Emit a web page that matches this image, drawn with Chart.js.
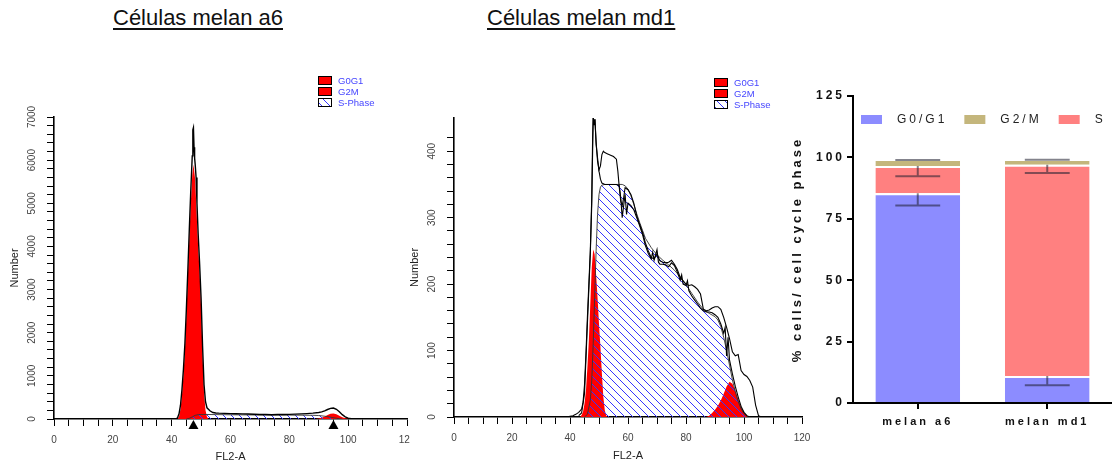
<!DOCTYPE html>
<html>
<head>
<meta charset="utf-8">
<title>Ciclo celular melan a6 / melan md1</title>
<script src="https://cdn.jsdelivr.net/npm/chart.js@4.4.1/dist/chart.umd.min.js"></script>
<style>
  html, body { margin: 0; padding: 0; background: #fff; }
  body { width: 1112px; height: 465px; position: relative; overflow: hidden;
         font-family: 'Liberation Sans', Arial, sans-serif; }
  .ttl { position: absolute; top: 7px; font-size: 22px; line-height: 22px; color: #111;
         text-decoration: underline; text-decoration-thickness: 1.5px; text-underline-offset: 3px;
         white-space: nowrap; }
  canvas { position: absolute; }
  #histA6 { left: 0; top: 40px; filter: blur(0.45px); }
  #histMd1 { left: 400px; top: 40px; filter: blur(0.45px); }
  #phaseBars { left: 780px; top: 80px; filter: blur(0.2px); }
</style>
</head>
<body>
<div class="ttl" style="left:113px">Células melan a6</div>
<div class="ttl" style="left:487px">Células melan md1</div>
<canvas id="histA6" width="410" height="425"></canvas>
<canvas id="histMd1" width="415" height="425"></canvas>
<canvas id="phaseBars" width="332" height="385"></canvas>

<script>
const FONT = "'Liberation Sans', Arial, sans-serif";

// ---- melan a6: DNA content histogram (FL2-A, counts) ----
const a6Histogram = [
  [0,0],[40,0],[41.5,5],[42,30],[42.5,120],[43,320],[43.5,680],[44,1150],[44.5,1750],[45,2550],
  [45.5,3450],[46,4400],[46.5,5300],[47,6100],[47.2,6700],[47.4,6750],[47.6,6300],[47.8,6050],
  [48,5900],[48.3,5600],[48.6,5000],[49,4300],[49.5,3600],[50,2800],[50.5,1700],[51,800],[51.5,400],
  [52,260],[53,190],[54,150],[55,140],[56,135],[58,130],[60,125],[62,120],[64,118],[66,115],[68,110],
  [70,105],[72,105],[74,100],[76,105],[78,105],[80,108],[82,112],[84,118],[86,125],[88,135],[90,150],
  [91,165],[92,190],[93,220],[94,245],[95,255],[96,225],[97,170],[98,100],[99,50],[100,20],[101,5],
  [102,0],[120,0]
];
const a6G0G1 = [
  [42,0],[42.5,60],[43,220],[43.5,550],[44,1000],[44.5,1600],[45,2400],[45.5,3300],[46,4200],
  [46.5,5000],[47,5650],[47.4,5900],[48,5550],[48.5,4750],[49,4000],[49.5,3400],[50,2600],
  [50.5,1500],[51,600],[51.5,200],[52,50],[52.5,0]
];
const a6SPhase = [
  [45,0],[46,15],[47,50],[48,85],[49,100],[50,105],[52,105],[55,102],[60,98],[65,95],[70,92],
  [75,90],[80,90],[85,88],[88,86],[90,80],[92,65],[94,42],[96,18],[97,6],[98,0]
];
const a6G2M = [
  [89,0],[90,10],[91,30],[92,60],[93,95],[94,122],[95,130],[96,112],[97,78],[98,42],[99,16],[100,4],[101,0]
];
const a6PeakMeans = [47.4, 95.0];

// ---- melan md1: DNA content histogram ----
const md1Histogram = [
  [0,0],[39,0],[40,1],[41,2],[42,4],[43,7],[44,12],[44.5,22],[45,48],[45.5,95],[46,150],[46.5,200],
  [47,250],[47.5,330],[47.8,420],[48,450],[48.3,445],[48.6,448],[49,415],[49.5,385],[50,372],
  [50.5,378],[51,395],[51.5,400],[52,398],[53,396],[54,394],[55,392],[56,388],[56.5,370],[57,345],
  [57.5,325],[58,318],[58.5,330],[59,345],[60,342],[61,335],[62,322],[63,303],[64,290],[65,278],
  [66,262],[67,250],[68,240],[69,238],[70,245],[71,235],[72,233],[73,232],[74,233],[75,236],
  [76,230],[77,222],[78,210],[79,205],[80,200],[81,198],[82,199],[83,196],[84,192],[85,185],
  [86,162],[87,160],[88,161],[89,164],[90,166],[91,166],[92,162],[93,150],[94,135],[95,118],
  [96,98],[97,92],[98,94],[99,70],[100,64],[101,61],[102,55],[103,45],[104,18],[105,2],[106,0],[120,0]
];
const md1Trace = [
  [43,2],[44,6],[45,35],[46,140],[47,245],[47.5,320],[48,452],[48.3,440],[48.6,448],[49,410],
  [49.5,390],[50,370],[50.5,358],[51,352],[52,350],[56,350],[57,348],[57.5,330],[58,300],
  [58.5,318],[59,335],[59.5,305],[60,322],[61,318],[62,312],[63,300],[64,288],[65,275],[66,258],
  [67,246],[68,238],[68.5,248],[69,236],[70,252],[70.5,233],[71,230],[72,230],[73,229],[74,226],
  [75,232],[76,228],[77,218],[78,206],[78.5,214],[79,200],[80,198],[80.5,205],[81,190],[82,182],
  [83,176],[84,170],[85,164],[86,160],[87,158],[88,158],[89,157],[90,154],[91,150],[92,140],
  [93,126],[93.5,135],[94,92],[94.5,120],[95,86],[96,65],[97,46],[98,30],[99,16],[100,7],[101,2],[102,0]
];
const md1G0G1 = [
  [43.5,0],[44,3],[44.5,8],[45,20],[45.5,40],[46,75],[46.5,115],[47,170],[47.5,225],[48,252],
  [48.5,245],[49,215],[49.5,180],[50,140],[50.5,105],[51,65],[51.5,30],[52,10],[52.5,2],[53,0]
];
const md1SPhase = [
  [45,0],[46,4],[47,25],[47.5,55],[48,110],[48.5,180],[49,250],[49.5,305],[50,335],[50.5,346],
  [51,349],[52,350],[58,350],[59,348],[60,343],[61,333],[62,320],[63,306],[64,293],[65,281],
  [66,269],[68,255],[70,244],[72,236],[74,229],[76,221],[78,211],[80,199],[82,186],[84,173],
  [86,162],[88,156],[90,151],[91,146],[92,136],[93,120],[94,100],[95,78],[96,56],[97,38],
  [98,23],[99,12],[100,5],[101,1],[102,0]
];
const md1G2M = [
  [87,0],[88,2],[89,6],[90,11],[91,17],[92,25],[93,35],[94,46],[95,53],[96,50],[97,40],[98,27],
  [99,15],[100,7],[101,2],[102,0]
];

// axis ranges of the histograms
const fl2Range = { min: 0, max: 120, step: 5, labelEvery: 20 };
const a6Counts = { max: 7000, step: 200, labelEvery: 1000 };
const md1Counts = { max: 450, step: 20, labelEvery: 100 };
const phaseLegendOrder = ['G0G1', 'G2M', 'S-Phase'];

// ---- cell cycle distribution (% of cells) ----
const groups = ['melan a6', 'melan md1'];
const pctG0G1 = [85.4, 11.0];
const pctS = [11.1, 86.0];
const pctG2M = [2.85, 2.35];
const errG0G1 = [5.0, 3.8];
const errS = [4.2, 3.4];
const errG2M = [0.4, 0.3];
const pctAxis = { max: 125, step: 25 };
const barLegendOrder = ['G0/G1', 'G2/M', 'S'];

// diagonal blue hatching used for the S-phase area
function hatchPattern(ctx, color, gap) {
  const tile = document.createElement('canvas');
  tile.width = gap; tile.height = gap;
  const g = tile.getContext('2d');
  g.strokeStyle = color; g.lineWidth = 1;
  g.beginPath();
  g.moveTo(0, 0); g.lineTo(gap, gap);
  g.moveTo(gap - 1, -1); g.lineTo(gap + 1, 1);
  g.moveTo(-1, gap - 1); g.lineTo(1, gap + 1);
  g.stroke();
  return ctx.createPattern(tile, 'repeat');
}

// rotated count labels beside the vertical axis
const rotatedYLabels = {
  id: 'rotatedYLabels',
  afterDraw(chart, args, o) {
    const s = chart.scales.y, ctx = chart.ctx;
    ctx.save();
    ctx.font = `${o.size}px ${FONT}`;
    ctx.fillStyle = o.color;
    ctx.textAlign = 'center';
    ctx.textBaseline = 'middle';
    s.ticks.forEach(t => {
      if (t.value % o.every !== 0) return;
      ctx.save();
      ctx.translate(s.right - o.offset, s.getPixelForValue(t.value));
      ctx.rotate(-Math.PI / 2);
      ctx.fillText(String(t.value), 0, 0);
      ctx.restore();
    });
    ctx.restore();
  }
};

// small key with the fitted components
const phaseKey = {
  id: 'phaseKey',
  afterDraw(chart, args, o) {
    const ctx = chart.ctx;
    ctx.save();
    ctx.font = `9.5px ${FONT}`;
    ctx.textBaseline = 'middle';
    o.order.forEach((lbl, i) => {
      const ds = chart.data.datasets.find(d => d.label === lbl);
      const y = o.y + i * 11;
      ctx.fillStyle = '#fff';
      ctx.fillRect(o.x, y, 14, 9);
      ctx.fillStyle = ds.backgroundColor;
      ctx.fillRect(o.x, y, 14, 9);
      ctx.strokeStyle = '#000'; ctx.lineWidth = 1;
      ctx.strokeRect(o.x + 0.5, y + 0.5, 13, 8);
      ctx.fillStyle = '#4646ff';
      ctx.fillText(lbl, o.x + 20, y + 5);
    });
    ctx.restore();
  }
};

// triangles marking the fitted peak means
const peakMarkers = {
  id: 'peakMarkers',
  afterDraw(chart, args, o) {
    if (!o.values) return;
    const { ctx, scales: { x, y } } = chart;
    const base = y.getPixelForValue(0);
    ctx.save();
    ctx.fillStyle = '#000';
    o.values.forEach(v => {
      const px = x.getPixelForValue(v);
      ctx.beginPath();
      ctx.moveTo(px, base + 1);
      ctx.lineTo(px + 5, base + 10);
      ctx.lineTo(px - 5, base + 10);
      ctx.closePath();
      ctx.fill();
    });
    ctx.restore();
  }
};

function histogramChart(id, h) {
  const canvas = document.getElementById(id);
  const ctx = canvas.getContext('2d');
  const hatch = hatchPattern(ctx, '#3535ff', 8);
  const none = 'rgba(0,0,0,0)';
  const datasets = h.lines.map(l => ({
    label: l.label, data: l.data, borderColor: '#000', borderWidth: l.width,
    pointRadius: 0, tension: 0, fill: false
  }));
  datasets.push(
    { label: 'S-Phase', data: h.s, borderColor: '#333', borderWidth: 0.9, backgroundColor: hatch,
      fill: 'origin', pointRadius: 0, tension: 0 },
    { label: 'G2M', data: h.g2m, borderColor: none, borderWidth: 0, backgroundColor: '#ff0000',
      fill: 'origin', pointRadius: 0, tension: 0 },
    { label: 'G0G1', data: h.g0g1, borderColor: none, borderWidth: 0, backgroundColor: '#ff0000',
      fill: 'origin', pointRadius: 0, tension: 0 }
  );
  const tickGrid = { display: true, drawOnChartArea: false, drawTicks: true, tickLength: 7,
                     color: '#000', lineWidth: 1 };
  const axisBorder = { display: true, color: '#000', width: 1.6 };
  return new Chart(ctx, {
    type: 'line',
    data: { datasets },
    options: {
      responsive: false, animation: false, events: [],
      layout: { padding: { top: h.padTop, right: h.padRight, left: 0, bottom: 0 } },
      plugins: {
        legend: { display: false }, tooltip: { enabled: false },
        rotatedYLabels: { every: h.counts.labelEvery, offset: 22, size: 10, color: '#444' },
        phaseKey: { order: phaseLegendOrder, x: h.keyX, y: h.keyY },
        peakMarkers: { values: h.peaks }
      },
      scales: {
        x: {
          type: 'linear', min: fl2Range.min, max: fl2Range.max,
          afterFit: s => { s.height = h.xHeight; s.paddingLeft = 0; s.paddingRight = 0; },
          ticks: { stepSize: fl2Range.step, autoSkip: false, maxRotation: 0, minRotation: 0,
                   padding: 8, color: '#444', font: { family: FONT, size: 10 },
                   callback: v => (v % fl2Range.labelEvery === 0 ? String(v) : '') },
          grid: tickGrid, border: axisBorder,
          title: { display: true, text: 'FL2-A', color: '#222', font: { family: FONT, size: 11 },
                   padding: { top: 0, bottom: h.xTitlePad } }
        },
        y: {
          type: 'linear', min: 0, max: h.counts.max,
          afterFit: s => { s.width = 54; },
          afterBuildTicks: s => { s.ticks = s.ticks.filter(t => t.value % h.counts.step === 0); },
          ticks: { stepSize: h.counts.step, display: false, autoSkip: false },
          grid: tickGrid, border: axisBorder,
          title: { display: true, text: 'Number', color: '#222', font: { family: FONT, size: 11 },
                   padding: { top: 8, bottom: 0 } }
        }
      }
    },
    plugins: [rotatedYLabels, phaseKey, peakMarkers]
  });
}

histogramChart('histA6', {
  lines: [{ label: 'Histograma', data: a6Histogram, width: 1.4 }],
  s: a6SPhase, g2m: a6G2M, g0g1: a6G0G1, peaks: a6PeakMeans,
  counts: a6Counts, padTop: 77, padRight: 3, xHeight: 46, xTitlePad: 1,
  keyX: 318, keyY: 36
});

histogramChart('histMd1', {
  lines: [{ label: 'Histograma', data: md1Histogram, width: 1.1 },
          { label: 'Traço', data: md1Trace, width: 1.1 }],
  s: md1SPhase, g2m: md1G2M, g0g1: md1G0G1, peaks: null,
  counts: md1Counts, padTop: 78, padRight: 13, xHeight: 48, xTitlePad: 2,
  keyX: 314, keyY: 38
});

// ---- stacked bars with error bars ----
const spacedText = {
  id: 'spacedText',
  beforeLayout(chart) { chart.ctx.letterSpacing = '3px'; },
  beforeDraw(chart) { chart.ctx.letterSpacing = '3px'; }
};

const errorBars = {
  id: 'errorBars',
  afterDatasetsDraw(chart) {
    const { ctx, scales: { y } } = chart;
    const unit = y.getPixelForValue(0) - y.getPixelForValue(1);
    ctx.save();
    ctx.strokeStyle = 'rgba(30,30,45,0.55)';
    ctx.lineWidth = 2;
    chart.data.datasets.forEach((ds, i) => {
      chart.getDatasetMeta(i).data.forEach((bar, j) => {
        const len = ds.errors[j] * unit;
        const half = bar.width * 0.265;
        ctx.beginPath();
        ctx.moveTo(bar.x, bar.y);
        ctx.lineTo(bar.x, bar.y + len);
        ctx.moveTo(bar.x - half, bar.y + len);
        ctx.lineTo(bar.x + half, bar.y + len);
        ctx.stroke();
      });
    });
    ctx.restore();
  }
};

const barKey = {
  id: 'barKey',
  afterDraw(chart) {
    const { ctx, chartArea } = chart;
    ctx.save();
    ctx.letterSpacing = '3px';
    ctx.font = `12px ${FONT}`;
    ctx.textBaseline = 'middle';
    let x = chartArea.left + 8;
    const y = chartArea.top + 19;
    barLegendOrder.forEach(lbl => {
      const ds = chart.data.datasets.find(d => d.label === lbl);
      ctx.fillStyle = ds.backgroundColor;
      ctx.fillRect(x, y, 21, 9);
      x += 36;
      ctx.fillStyle = '#222';
      ctx.fillText(lbl, x, y + 5);
      x += ctx.measureText(lbl).width + 17;
    });
    ctx.restore();
  }
};

const barBase = { borderColor: '#fff', borderWidth: { top: 2, right: 0, bottom: 0, left: 0 },
                  borderSkipped: false, barPercentage: 0.654, categoryPercentage: 1 };

new Chart(document.getElementById('phaseBars'), {
  type: 'bar',
  data: {
    labels: groups,
    datasets: [
      { ...barBase, label: 'G0/G1', data: pctG0G1, errors: errG0G1, backgroundColor: '#8c8cff' },
      { ...barBase, label: 'S', data: pctS, errors: errS, backgroundColor: '#ff8080' },
      { ...barBase, label: 'G2/M', data: pctG2M, errors: errG2M, backgroundColor: '#c4b67c' }
    ]
  },
  options: {
    responsive: false, animation: false, events: [],
    layout: { padding: { top: 16, right: 0, left: 0, bottom: 0 } },
    plugins: { legend: { display: false }, tooltip: { enabled: false } },
    scales: {
      x: {
        stacked: true,
        afterFit: s => { s.height = 62; s.paddingLeft = 0; s.paddingRight = 0; },
        grid: { offset: false, drawOnChartArea: false, tickLength: 6, lineWidth: 2, color: '#000' },
        border: { color: '#000', width: 2 },
        ticks: { color: '#111', padding: 6, font: { family: FONT, size: 11, weight: 'bold' } }
      },
      y: {
        stacked: true, min: 0, max: pctAxis.max,
        afterFit: s => { s.width = 73; },
        ticks: { stepSize: pctAxis.step, color: '#111', padding: 2,
                 font: { family: FONT, size: 12, weight: 'bold' } },
        grid: { drawOnChartArea: false, tickLength: 6, lineWidth: 2, color: '#000' },
        border: { color: '#000', width: 2 },
        title: { display: true, text: '% cells/ cell cycle phase', color: '#111',
                 font: { family: FONT, size: 13, weight: 'bold' }, padding: { top: 10, bottom: 0 } }
      }
    }
  },
  plugins: [spacedText, errorBars, barKey]
});
</script>
</body>
</html>
